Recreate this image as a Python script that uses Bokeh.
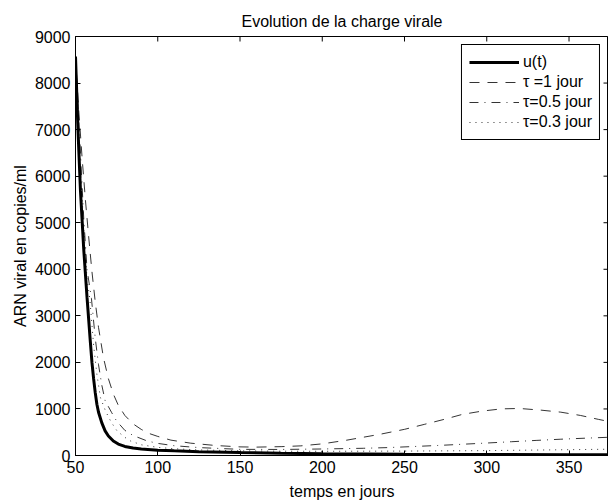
import math
from bokeh.plotting import figure
from bokeh.models import Range1d, FixedTicker
from bokeh.embed import file_html
from bokeh.resources import INLINE

# ---- data ----
t_u = [50, 51.5, 53, 55, 57, 59, 60, 61, 62, 63, 64, 66, 68, 70, 73, 76, 80, 85, 90,
       100, 110, 125, 150, 175, 200, 250, 300, 350, 375]
u_vals = [8570, 7000, 5700, 4430, 3400, 2450, 2000, 1650, 1350, 1100, 930, 700, 530, 420,
          310, 245, 195, 160, 140, 115, 100, 82, 62, 48, 38, 28, 22, 18, 16]

t_tau1 = [50, 52, 54, 56, 58, 60, 62, 64, 67, 70, 73, 76, 80, 85, 90, 95, 100, 108, 120,
          135, 150, 160, 175, 187, 200, 215, 235, 250, 262, 274, 285, 297, 309, 320, 333,
          345, 357, 368, 375]
tau1_vals = [8570, 7400, 6400, 5500, 4700, 3950, 3300, 2750, 2100, 1650, 1320, 1080, 860,
             680, 560, 470, 410, 330, 265, 215, 185, 180, 190, 207, 250, 330, 455, 562, 668,
             775, 882, 953, 1002, 1010, 974, 931, 860, 775, 725]

t_tau05 = [50, 53, 55, 57, 59.7, 62, 64, 66, 68, 70, 72, 75, 80, 85, 93.5, 100, 110, 125,
           150, 175, 200, 225, 240, 255, 270, 285, 300, 315, 330, 345, 360, 375]
tau05_vals = [8570, 6500, 5100, 4000, 3370, 2520, 1950, 1510, 1180, 1050, 920, 740, 540,
              430, 313, 260, 210, 170, 132, 130, 140, 155, 170, 192, 215, 241, 268, 296,
              324, 350, 372, 393]

t_tau03 = [50, 53, 55, 57, 58.7, 61, 63, 65.2, 68, 70, 72, 75.3, 80, 83.4, 90, 100, 110,
           125, 150, 175, 200, 250, 300, 350, 375]
tau03_vals = [8570, 6200, 4900, 3800, 3370, 2370, 1740, 1237, 980, 830, 700, 527, 390, 313,
              230, 175, 145, 120, 100, 92, 90, 95, 105, 125, 135]

x_ticks = [50, 100, 150, 200, 250, 300, 350]
y_ticks = [0, 1000, 2000, 3000, 4000, 5000, 6000, 7000, 8000, 9000]
x_lim = (50, 374)
y_lim = (0, 9000)

FONT = "Liberation Sans"
FS = "16px"

p = figure(width=608, height=502, output_backend="svg", toolbar_location=None,
           x_range=Range1d(*x_lim), y_range=Range1d(*y_lim),
           min_border_left=75, min_border_right=0, min_border_top=36, min_border_bottom=44,
           title="Evolution de la charge virale")
p.background_fill_color = "white"
p.border_fill_color = "white"
p.xgrid.visible = False
p.ygrid.visible = False
p.outline_line_color = "black"
p.outline_line_width = 1
p.outline_line_alpha = 1

p.title.text_font = FONT
p.title.text_font_size = FS
p.title.text_font_style = "normal"
p.title.align = "center"
p.title.text_color = "black"
p.title.standoff = 14

p.xaxis.ticker = FixedTicker(ticks=x_ticks)
p.yaxis.ticker = FixedTicker(ticks=y_ticks)
p.xaxis.axis_label = "temps en jours"
p.yaxis.axis_label = "ARN viral en copies/ml"
for ax in [p.xaxis[0], p.yaxis[0]]:
    ax.major_tick_in = 5
    ax.major_tick_out = 0
    ax.minor_tick_in = 0
    ax.minor_tick_out = 0
    ax.axis_line_color = "black"
    ax.major_tick_line_color = "black"
    ax.major_label_text_font = FONT
    ax.major_label_text_font_size = FS
    ax.major_label_text_color = "black"
    ax.major_label_standoff = 5
    ax.axis_label_text_font = FONT
    ax.axis_label_text_font_size = FS
    ax.axis_label_text_font_style = "normal"
    ax.axis_label_text_color = "black"
p.xaxis.axis_label_standoff = 7
p.yaxis.axis_label_standoff = 3

# inward box ticks on the top and right sides (clipped to the frame)
p.scatter(x_ticks, [y_lim[1]] * len(x_ticks), marker="dash", size=10,
          angle=math.pi / 2, line_color="black", line_width=1)
p.scatter([x_lim[1]] * len(y_ticks), y_ticks, marker="dash", size=10,
          line_color="black", line_width=1)

p.line(t_u, u_vals, line_color="black", line_width=3, legend_label="u(t)")
p.line(t_tau1, tau1_vals, line_color="black", line_width=0.8, line_dash="10 8",
       legend_label="\u03c4 =1 jour")
p.line(t_tau05, tau05_vals, line_color="black", line_width=0.8, line_dash="9 6 1 6",
       legend_label="\u03c4=0.5 jour")
p.line(t_tau03, tau03_vals, line_color="black", line_width=0.8, line_dash="1 5",
       legend_label="\u03c4=0.3 jour")

lg = p.legend[0]
lg.location = "top_right"
lg.margin = 8
lg.padding = 7
lg.spacing = 0
lg.label_height = 20
lg.glyph_height = 20
lg.glyph_width = 50
lg.label_standoff = 4
lg.label_text_font = FONT
lg.label_text_font_size = FS
lg.label_text_color = "black"
lg.border_line_color = "black"
lg.border_line_width = 1
lg.border_line_alpha = 1
lg.background_fill_color = "white"
lg.background_fill_alpha = 1

open("out.html", "w").write(file_html(p, INLINE))
